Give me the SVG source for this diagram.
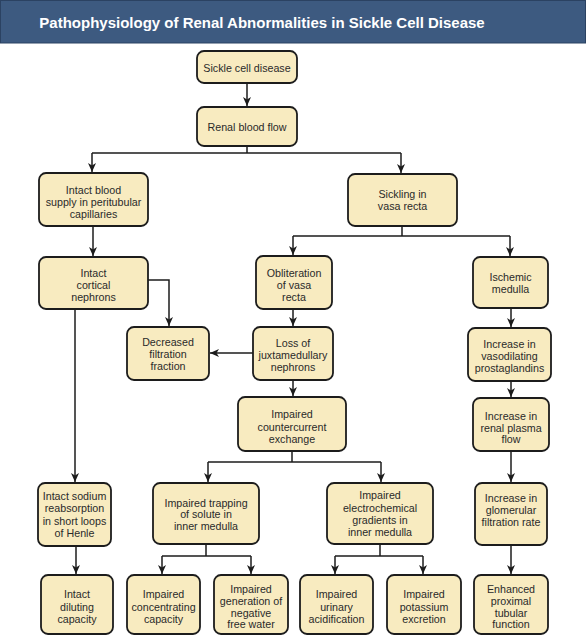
<svg xmlns="http://www.w3.org/2000/svg" width="586" height="644" viewBox="0 0 586 644">
<style>
.box{fill:#f8ebc0;stroke:#1c1c1c;stroke-width:1.8}
.t{font-family:"Liberation Sans",Arial,sans-serif;font-size:10.7px;fill:#2a2a2a;text-anchor:middle}
.c{fill:none;stroke:#1c1c1c;stroke-width:1.5}
.title{font-family:"Liberation Sans",Arial,sans-serif;font-size:15px;font-weight:bold;fill:#ffffff;text-anchor:middle}
</style>
<defs>
<marker id="ah" markerWidth="10" markerHeight="10" refX="9" refY="5" orient="auto" markerUnits="userSpaceOnUse">
<path d="M0,1 L9,5 L0,9 L2.5,5 z" fill="#1c1c1c"/>
</marker>
</defs>
<rect width="586" height="644" fill="#ffffff"/>
<g id="title">
<rect x="0.5" y="0.5" width="585" height="42.5" fill="#3d5a80" stroke="#2b4262" stroke-width="1"/>
<text class="title" x="262" y="28">Pathophysiology of Renal Abnormalities in Sickle Cell Disease</text>
</g>
<g id="connectors">
<path class="c" d="M247,83 V106" marker-end="url(#ah)"/>
<path class="c" d="M247,146 V153 M92,153 H401"/>
<path class="c" d="M92,153 V172" marker-end="url(#ah)"/>
<path class="c" d="M401,153 V173" marker-end="url(#ah)"/>
<path class="c" d="M402,226 V236 M293,236 H510"/>
<path class="c" d="M293,236 V255" marker-end="url(#ah)"/>
<path class="c" d="M510,236 V256" marker-end="url(#ah)"/>
<path class="c" d="M93,226 V256" marker-end="url(#ah)"/>
<path class="c" d="M148,280 H169 V326" marker-end="url(#ah)"/>
<path class="c" d="M293,309 V326" marker-end="url(#ah)"/>
<path class="c" d="M253,353 H210" marker-end="url(#ah)"/>
<path class="c" d="M293,380 V396" marker-end="url(#ah)"/>
<path class="c" d="M75,309 V482" marker-end="url(#ah)"/>
<path class="c" d="M292,451 V462 M208,462 H381"/>
<path class="c" d="M208,462 V482" marker-end="url(#ah)"/>
<path class="c" d="M381,462 V482" marker-end="url(#ah)"/>
<path class="c" d="M511,308 V327" marker-end="url(#ah)"/>
<path class="c" d="M511,381 V397" marker-end="url(#ah)"/>
<path class="c" d="M511,451 V482" marker-end="url(#ah)"/>
<path class="c" d="M511,545 V574" marker-end="url(#ah)"/>
<path class="c" d="M76,546 V574" marker-end="url(#ah)"/>
<path class="c" d="M206,544 V556 M162,556 H251"/>
<path class="c" d="M162,556 V574" marker-end="url(#ah)"/>
<path class="c" d="M251,556 V574" marker-end="url(#ah)"/>
<path class="c" d="M380,544 V556 M335,556 H423"/>
<path class="c" d="M335,556 V574" marker-end="url(#ah)"/>
<path class="c" d="M423,556 V574" marker-end="url(#ah)"/>
</g>
<g id="n1"><rect class="box" x="197" y="51" width="100" height="32" rx="7"/><text class="t" x="247" y="72">Sickle cell disease</text></g>
<g id="n2"><rect class="box" x="197" y="107" width="100" height="39" rx="7"/><text class="t" x="247" y="131">Renal blood flow</text></g>
<g id="n3"><rect class="box" x="39" y="173" width="109" height="53" rx="7"/><text class="t" x="93.5" y="194">Intact blood</text><text class="t" x="93.5" y="206">supply in peritubular</text><text class="t" x="93.5" y="218">capillaries</text></g>
<g id="n4"><rect class="box" x="348" y="174" width="109" height="52" rx="7"/><text class="t" x="402.5" y="197.5">Sickling in</text><text class="t" x="402.5" y="209.5">vasa recta</text></g>
<g id="n5"><rect class="box" x="39" y="257" width="109" height="52" rx="7"/><text class="t" x="93.5" y="276.5">Intact</text><text class="t" x="93.5" y="288.5">cortical</text><text class="t" x="93.5" y="300.5">nephrons</text></g>
<g id="n6"><rect class="box" x="256" y="256" width="76" height="53" rx="7"/><text class="t" x="294" y="276.5">Obliteration</text><text class="t" x="294" y="288.5">of vasa</text><text class="t" x="294" y="300.5">recta</text></g>
<g id="n7"><rect class="box" x="473" y="257" width="75" height="51" rx="7"/><text class="t" x="510.5" y="281">Ischemic</text><text class="t" x="510.5" y="293">medulla</text></g>
<g id="n8"><rect class="box" x="127" y="327" width="82" height="53" rx="7"/><text class="t" x="168" y="346">Decreased</text><text class="t" x="168" y="358">filtration</text><text class="t" x="168" y="370">fraction</text></g>
<g id="n9"><rect class="box" x="253" y="327" width="80" height="53" rx="7"/><text class="t" x="293" y="347">Loss of</text><text class="t" x="293" y="359">juxtamedullary</text><text class="t" x="293" y="371">nephrons</text></g>
<g id="n10"><rect class="box" x="468" y="328" width="83" height="53" rx="7"/><text class="t" x="509.5" y="347.5">Increase in</text><text class="t" x="509.5" y="360">vasodilating</text><text class="t" x="509.5" y="372">prostaglandins</text></g>
<g id="n11"><rect class="box" x="238" y="397" width="108" height="54" rx="7"/><text class="t" x="292" y="418">Impaired</text><text class="t" x="292" y="430.5">countercurrent</text><text class="t" x="292" y="443">exchange</text></g>
<g id="n12"><rect class="box" x="473" y="398" width="76" height="53" rx="7"/><text class="t" x="511" y="420">Increase in</text><text class="t" x="511" y="431.5">renal plasma</text><text class="t" x="511" y="443">flow</text></g>
<g id="n13"><rect class="box" x="38" y="483" width="73" height="63" rx="7"/><text class="t" x="74.5" y="500">Intact sodium</text><text class="t" x="74.5" y="512">reabsorption</text><text class="t" x="74.5" y="524.5">in short loops</text><text class="t" x="74.5" y="536.5">of Henle</text></g>
<g id="n14"><rect class="box" x="153" y="483" width="106" height="61" rx="7"/><text class="t" x="206" y="506.5">Impaired trapping</text><text class="t" x="206" y="518">of solute in</text><text class="t" x="206" y="530">inner medulla</text></g>
<g id="n15"><rect class="box" x="327" y="483" width="106" height="61" rx="7"/><text class="t" x="380" y="499">Impaired</text><text class="t" x="380" y="511.5">electrochemical</text><text class="t" x="380" y="524">gradients in</text><text class="t" x="380" y="536">inner medulla</text></g>
<g id="n16"><rect class="box" x="475" y="483" width="72" height="62" rx="7"/><text class="t" x="511" y="501.5">Increase in</text><text class="t" x="511" y="514">glomerular</text><text class="t" x="511" y="525.5">filtration rate</text></g>
<g id="n17"><rect class="box" x="41" y="575" width="72" height="59" rx="7"/><text class="t" x="77" y="598">Intact</text><text class="t" x="77" y="610.5">diluting</text><text class="t" x="77" y="623">capacity</text></g>
<g id="n18"><rect class="box" x="127" y="575" width="73" height="59" rx="7"/><text class="t" x="163.5" y="598">Impaired</text><text class="t" x="163.5" y="610.5">concentrating</text><text class="t" x="163.5" y="623">capacity</text></g>
<g id="n19"><rect class="box" x="214" y="575" width="74" height="59" rx="7"/><text class="t" x="251" y="592.5">Impaired</text><text class="t" x="251" y="604.5">generation of</text><text class="t" x="251" y="616.5">negative</text><text class="t" x="251" y="628">free water</text></g>
<g id="n20"><rect class="box" x="300" y="575" width="73" height="59" rx="7"/><text class="t" x="336.5" y="598">Impaired</text><text class="t" x="336.5" y="610.5">urinary</text><text class="t" x="336.5" y="623">acidification</text></g>
<g id="n21"><rect class="box" x="387" y="575" width="74" height="59" rx="7"/><text class="t" x="424" y="598">Impaired</text><text class="t" x="424" y="610.5">potassium</text><text class="t" x="424" y="623">excretion</text></g>
<g id="n22"><rect class="box" x="474" y="575" width="74" height="59" rx="7"/><text class="t" x="511" y="592.5">Enhanced</text><text class="t" x="511" y="604.5">proximal</text><text class="t" x="511" y="616.5">tubular</text><text class="t" x="511" y="628">function</text></g>
</svg>
